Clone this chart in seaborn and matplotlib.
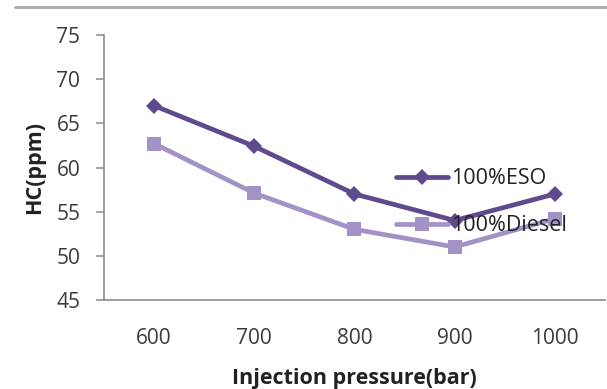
import matplotlib
matplotlib.use("Agg")
import matplotlib.pyplot as plt
from matplotlib.lines import Line2D
import seaborn as sns
import pandas as pd

# Injection pressure levels (bar) and HC emissions (ppm) for each fuel
pressures = ["600", "700", "800", "900", "1000"]
hc_eso = [67.0, 62.4, 57.0, 54.0, 57.0]
hc_diesel = [62.7, 57.1, 53.0, 51.0, 54.2]
series_names = ["100%ESO", "100%Diesel"]
y_ticks = [45, 50, 55, 60, 65, 70, 75]

df = pd.DataFrame({
    "pressure": pressures * 2,
    "hc": hc_eso + hc_diesel,
    "fuel": [series_names[0]] * len(pressures) + [series_names[1]] * len(pressures),
})

sns.set_theme(style="white")
plt.rcParams["font.family"] = ["Open Sans", "DejaVu Sans"]

palette = {series_names[0]: "#5e4a8c", series_names[1]: "#a292c6"}
markers = {series_names[0]: "D", series_names[1]: "s"}

fig = plt.figure(figsize=(6.07, 3.89), dpi=100)
ax = fig.add_axes([0.1713, 0.2288, 0.8254, 0.6812])

sns.lineplot(data=df, x="pressure", y="hc", hue="fuel", style="fuel",
             palette=palette, markers=markers, dashes=False, sort=False,
             linewidth=3.4, markersize=9, markeredgewidth=0, ax=ax,
             legend=False)
# diamond a little smaller than the square
for line, ms in zip(ax.lines, [8.5, 10.5]):
    line.set_markersize(ms)

ax.set_xlim(-0.5, 4.5)
ax.set_ylim(45, 75)
ax.set_yticks(y_ticks)
ax.set_yticklabels([str(t) for t in y_ticks])

for side in ["top", "right"]:
    ax.spines[side].set_visible(False)
for side in ["left", "bottom"]:
    ax.spines[side].set_color("#8c8c8c")
    ax.spines[side].set_linewidth(1.2)

ax.tick_params(axis="y", which="both", left=True, length=6, width=1.1,
               color="#8c8c8c", labelsize=15, labelcolor="#3a3a3a", pad=11)
ax.tick_params(axis="x", bottom=False, labelsize=15, labelcolor="#3a3a3a", pad=14)

ax.set_xlabel("Injection pressure(bar)", fontsize=15.5, fontweight="bold",
              color="#222222", labelpad=14)
ax.set_ylabel("HC(ppm)", fontsize=15.5, fontweight="bold", color="#222222",
              labelpad=8)

handles = [
    Line2D([], [], color=palette[series_names[0]], linewidth=3.4,
           marker="D", markersize=8.5, markeredgewidth=0),
    Line2D([], [], color=palette[series_names[1]], linewidth=3.4,
           marker="s", markersize=10.5, markeredgewidth=0),
]
leg = fig.legend(handles, series_names, loc="upper left",
                 bbox_to_anchor=(0.635, 0.595), frameon=False,
                 fontsize=15.5, handlelength=2.4, handletextpad=0.15,
                 labelspacing=1.2, borderpad=0)
for t in leg.get_texts():
    t.set_color("#222222")

# chart-area border line along the top
fig.add_artist(Line2D([0.025, 1.0], [0.982, 0.982], transform=fig.transFigure,
                      color="#a8a8a8", linewidth=2))

fig.savefig("out.png", dpi=100)
